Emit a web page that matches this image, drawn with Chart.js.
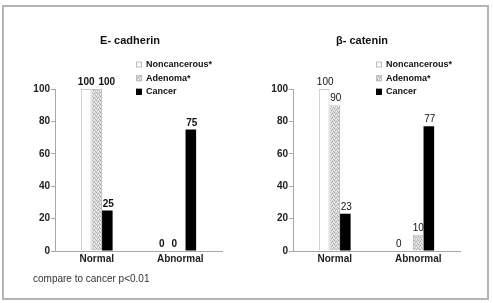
<!DOCTYPE html>
<html><head><meta charset="utf-8">
<script src="https://cdn.jsdelivr.net/npm/chart.js@4/dist/chart.umd.min.js"></script>
<style>
html,body{margin:0;padding:0;background:#fff;}
#wrap{position:relative;width:493px;height:303px;overflow:hidden;background:#fff;}
#frame{position:absolute;left:2px;top:5px;width:483px;height:291px;border:2px solid #b4b4b4;}
canvas{position:absolute;top:0;}
#c1{left:0;} #c2{left:246px;}
</style></head><body>
<div id="wrap"><div id="frame"></div>
<canvas id="c1" width="246" height="303"></canvas>
<canvas id="c2" width="247" height="303"></canvas>
</div>
<script>
const categories = ['Normal', 'Abnormal'];
const seriesNames = ['Noncancerous*', 'Adenoma*', 'Cancer'];
const eCadNoncancerous = [100, 0];
const eCadAdenoma = [100, 0];
const eCadCancer = [25, 75];
const bCatNoncancerous = [100, 0];
const bCatAdenoma = [90, 10];
const bCatCancer = [23, 77];
const yTicks = [0, 20, 40, 60, 80, 100];
const footnote = 'compare to cancer p<0.01';

function makePattern(){
  const p = document.createElement('canvas');
  p.width = 4; p.height = 4;
  const g = p.getContext('2d');
  g.fillStyle = '#dcdcdc'; g.fillRect(0,0,4,4);
  g.fillStyle = '#a8a8a8';
  g.fillRect(0,0,1,1); g.fillRect(2,1,1,1); g.fillRect(1,2,1,1); g.fillRect(3,3,1,1);
  g.fillStyle = '#f2f2f2';
  g.fillRect(2,3,1,1); g.fillRect(0,2,1,1);
  return g.createPattern(p, 'repeat');
}
const hatch = makePattern();
const FONT = '"Liberation Sans", Arial, sans-serif';

const decor = {
  id: 'decor',
  afterDraw(chart, args, o){
    const ctx = chart.ctx;
    ctx.save();
    // title
    ctx.fillStyle = '#111';
    ctx.textAlign = 'center'; ctx.textBaseline = 'middle';
    ctx.font = 'bold 11px ' + FONT;
    ctx.fillText(o.title, o.titleX, 41);
    // value labels
    ctx.font = (o.labelBold ? 'bold ' : '') + '10px ' + FONT;
    ctx.textBaseline = 'alphabetic';
    chart.data.datasets.forEach((ds, di) => {
      const meta = chart.getDatasetMeta(di);
      meta.data.forEach((bar, i) => {
        const v = ds.data[i];
        const dx = (o.dx && o.dx[di]) ? o.dx[di][i] : 0;
        ctx.fillStyle = '#111';
        ctx.fillText(String(v), bar.x + dx, bar.y - 4);
      });
    });
    // legend
    ctx.font = 'bold 9px ' + FONT;
    ctx.textAlign = 'left'; ctx.textBaseline = 'middle';
    const rows = [64.5, 78.2, 91.8];
    chart.data.datasets.forEach((ds, di) => {
      const y = rows[di];
      ctx.fillStyle = ds.backgroundColor;
      ctx.fillRect(o.legX, y - 3, 6, 6);
      ctx.strokeStyle = di === 2 ? '#000' : '#bbb';
      ctx.lineWidth = 1;
      ctx.strokeRect(o.legX + 0.5, y - 2.5, 5, 5);
      ctx.fillStyle = '#111';
      ctx.fillText(ds.label, o.legX + 10, y);
    });
    if (o.footnote){
      ctx.font = '10px ' + FONT;
      ctx.fillStyle = '#333';
      ctx.fillText(o.footnote, 33, 279);
    }
    ctx.restore();
  }
};

function makeChart(id, data3, opts){
  const ds = [
    {label: seriesNames[0], data: data3[0], backgroundColor: '#ffffff', borderColor: '#c8c8c8', borderWidth: 1},
    {label: seriesNames[1], data: data3[1], backgroundColor: hatch, borderColor: '#bdbdbd', borderWidth: 1},
    {label: seriesNames[2], data: data3[2], backgroundColor: '#000000', borderColor: '#000000', borderWidth: 0}
  ];
  return new Chart(document.getElementById(id), {
    type: 'bar',
    data: {labels: categories, datasets: ds},
    options: {
      responsive: false, animation: false,
      devicePixelRatio: 1,
      layout: {padding: opts.padding},
      datasets: {bar: {categoryPercentage: 0.38, barPercentage: 1.0}},
      plugins: {legend: {display: false}, title: {display: false}, tooltip: {enabled: false}, decor: opts.decor},
      scales: {
        x: {
          grid: {display: true, drawOnChartArea: false, drawTicks: false, color: '#bbb'},
          border: {color: '#a8a8a8', width: 1},
          ticks: {font: {family: FONT, size: 10, weight: 'bold'}, color: '#222', padding: 2},
          afterFit(s){ s.height = 20; }
        },
        y: {
          min: 0, max: 100,
          afterBuildTicks(s){ s.ticks = yTicks.map(v => ({value: v})); },
          grid: {display: true, drawOnChartArea: false, tickLength: 4, color: '#a8a8a8'},
          border: {color: '#a8a8a8', width: 1},
          ticks: {font: {family: FONT, size: 10, weight: 'bold'}, color: '#222', padding: 1},
          afterFit(s){ s.width = 30; }
        }
      }
    },
    plugins: [decor]
  });
}

makeChart('c1', [eCadNoncancerous, eCadAdenoma, eCadCancer], {
  padding: {left: 25, right: 24, top: 89, bottom: 32},
  decor: {title: 'E- cadherin', titleX: 130, labelBold: true, legX: 136, footnote: footnote,
          dx: [[0, -8], [10, -6], [1, 1]]}
});
makeChart('c2', [bCatNoncancerous, bCatAdenoma, bCatCancer], {
  padding: {left: 17, right: 33, top: 89, bottom: 32},
  decor: {title: 'β- catenin', titleX: 116, labelBold: false, legX: 130,
          dx: [[1, -9], [1, 0], [1, 1]]}
});
</script>
</body></html>
